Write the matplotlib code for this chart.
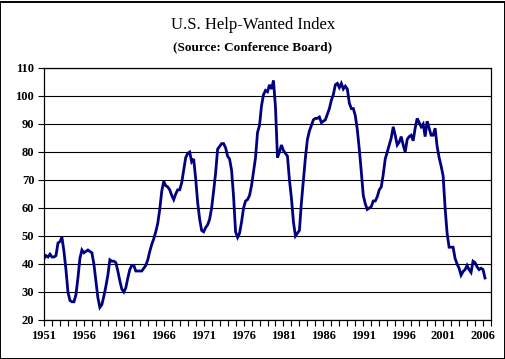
import numpy as np
import matplotlib.pyplot as plt
from matplotlib.patches import Rectangle

plt.rcParams["font.family"] = ["Liberation Serif", "DejaVu Serif"]

# quarterly readings of the Help-Wanted Index, starting Q1 1951
start_year = 1951
hwi = [
    42, 43, 42.5, 43.5,        # 1951
    42.5, 42.5, 43, 47.5,      # 1952
    48, 49.5, 44.5, 38,        # 1953
    30, 27, 26.5, 26.5,        # 1954
    29, 35, 42, 45,            # 1955
    44, 44.5, 45, 44.5,        # 1956
    44, 40, 34, 28,            # 1957
    24.5, 25.5, 28.5, 32,      # 1958
    36, 41.5, 41, 41,          # 1959
    40.5, 37.5, 34, 31,        # 1960
    30, 31.5, 35, 38,          # 1961
    39.5, 39.5, 37.5, 37.5,    # 1962
    37.5, 37.5, 38.5, 39.5,    # 1963
    41.5, 44.5, 47, 49,        # 1964
    51.5, 54.5, 59.5, 66,      # 1965
    69.5, 68, 67.5, 66.5,      # 1966
    64.5, 63, 65, 66.5,        # 1967
    66.5, 69, 73.5, 78,        # 1968
    79.5, 80, 76.5, 77.5,      # 1969
    70.5, 62, 56, 52,          # 1970
    51.5, 53, 54, 56,          # 1971
    60, 66, 72.5, 81,          # 1972
    82, 83, 83, 81.5,          # 1973
    78.5, 77.5, 73.5, 64,      # 1974
    51.5, 49.5, 51, 55,        # 1975
    60, 62.5, 63, 64.5,        # 1976
    68, 73, 78, 87,            # 1977
    89.5, 96.5, 100.5, 102,    # 1978
    101.5, 104, 102.5, 105.5,  # 1979
    96, 78, 80, 82.5,          # 1980
    80.5, 79.5, 78.5, 70,      # 1981
    63.5, 55, 50, 51,          # 1982
    52, 62, 70, 78,            # 1983
    84.5, 87.5, 89.5, 91.5,    # 1984
    92, 92, 92.5, 90.5,        # 1985
    91, 91.5, 93.5, 95.5,      # 1986
    98.5, 100.5, 104, 104.5,   # 1987
    103, 104.5, 102.5, 103.5,  # 1988
    102.5, 97.5, 95.5, 95.5,   # 1989
    93, 88, 81, 73,            # 1990
    64.5, 61.5, 59.5, 60,      # 1991
    60.5, 62.5, 62.5, 64,      # 1992
    66.5, 67.5, 72, 77.5,      # 1993
    80, 82.5, 85, 89,          # 1994
    86, 82.5, 83.5, 85.5,      # 1995
    82.5, 80, 84.5, 85.5,      # 1996
    86, 84, 88.5, 92,          # 1997
    90.5, 89, 90, 85.5,        # 1998
    91, 88.5, 86, 86,          # 1999
    88.5, 82, 78, 75,          # 2000
    71.5, 60, 51, 46,          # 2001
    46, 46, 42, 40,            # 2002
    38.5, 36, 37.3, 38,        # 2003
    39.5, 38, 37, 41,          # 2004
    40.5, 39, 38, 38.5,        # 2005
    38, 35,                    # 2006
]
years = start_year + np.arange(len(hwi)) * 0.25

title = "U.S. Help-Wanted Index"
subtitle = "(Source: Conference Board)"
y_ticks = list(range(20, 111, 10))
x_labels = list(range(1951, 2007, 5))

fig = plt.figure(figsize=(5.06, 3.59), dpi=100)
fig.patch.set_facecolor("white")
ax = fig.add_axes([44 / 506, 1 - 320 / 359, 447 / 506, 252 / 359])

ax.plot(years, hwi, color="#000080", lw=2.0, solid_joinstyle="miter")

ax.set_xlim(1951, 2007)
ax.set_ylim(20, 110)
ax.set_yticks(y_ticks)
ax.set_yticklabels([str(v) for v in y_ticks], fontsize=9, fontweight="bold")
ax.set_xticks(x_labels)
ax.set_xticks(range(1951, 2008), minor=True)
ax.set_xticklabels([str(y) for y in x_labels], fontsize=9, fontweight="bold")
ax.grid(axis="y", color="black", lw=0.8)
ax.set_axisbelow(True)

for s in ax.spines.values():
    s.set_color("black")
    s.set_linewidth(0.9)

ax.tick_params(axis="x", which="both", direction="out", length=4, width=0.8,
               pad=3, colors="black")
ax.tick_params(axis="y", direction="out", length=4, width=0.8, pad=3)

fig.text(0.5, 1 - 25 / 359, title, ha="center", va="center", fontsize=12)
fig.text(0.5, 1 - 47 / 359, subtitle, ha="center", va="center",
         fontsize=9.5, fontweight="bold")

# black frame around the whole picture
fig.patches.append(Rectangle((0.5 / 506, 0.5 / 359), 504.5 / 506, 357 / 359,
                             transform=fig.transFigure, fill=False,
                             edgecolor="black", lw=1.4))

fig.savefig("out.png", dpi=100)
